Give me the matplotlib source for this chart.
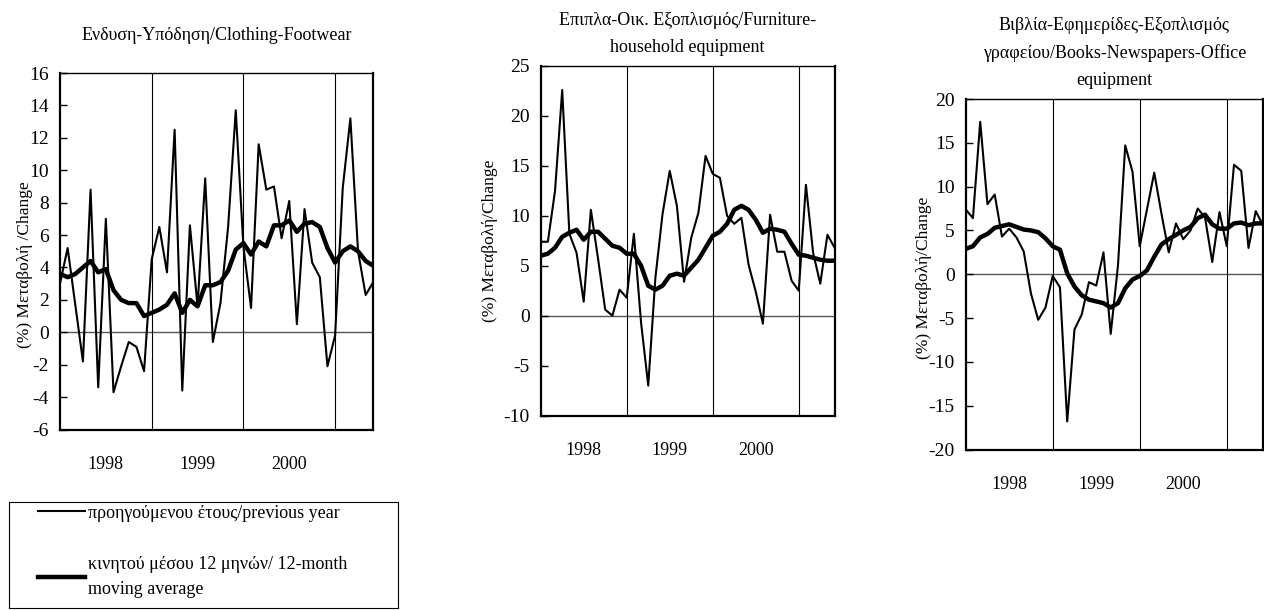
import numpy as np
import matplotlib
matplotlib.use('Agg')
import matplotlib.pyplot as plt
from matplotlib.lines import Line2D

plt.rcParams['font.family'] = ['Liberation Serif', 'DejaVu Serif']
plt.rcParams['axes.unicode_minus'] = False

# monthly observations, Jan 1998 - Jun 2001
months = np.arange(42)
year_labels = ['1998', '1999', '2000']
year_centres = [6, 18, 30]
year_breaks = [12, 24, 36]

# Clothing-Footwear
cloth_yoy = [3.0, 5.2, 1.7, -1.8, 8.8, -3.4, 7.0, -3.7, -2.1, -0.6, -0.9, -2.4,
             4.5, 6.5, 3.7, 12.5, -3.6, 6.6, 1.6, 9.5, -0.6, 1.8, 6.5, 13.7,
             5.3, 1.5, 11.6, 8.8, 9.0, 5.8, 8.1, 0.5, 7.6, 4.3, 3.4, -2.1,
             -0.2, 8.9, 13.2, 5.0, 2.3, 3.1]
cloth_ma = [3.6, 3.4, 3.6, 4.0, 4.4, 3.7, 3.9, 2.6, 2.0, 1.8, 1.8, 1.0,
            1.2, 1.4, 1.7, 2.4, 1.2, 2.0, 1.6, 2.9, 2.9, 3.1, 3.8, 5.1,
            5.5, 4.8, 5.6, 5.3, 6.6, 6.6, 6.9, 6.2, 6.7, 6.8, 6.5, 5.2,
            4.3, 5.0, 5.3, 5.0, 4.4, 4.1]

# Furniture-household equipment
furn_yoy = [7.4, 7.4, 12.5, 22.6, 8.2, 6.3, 1.4, 10.6, 5.7, 0.6, 0.0, 2.6,
            1.8, 8.2, -0.7, -7.0, 3.8, 10.2, 14.5, 11.0, 3.4, 7.8, 10.3, 16.0,
            14.2, 13.8, 10.0, 9.2, 9.8, 5.1, 2.4, -0.8, 10.1, 6.4, 6.4, 3.5,
            2.5, 13.1, 6.3, 3.2, 8.1, 6.8]
furn_ma = [6.0, 6.2, 6.8, 7.9, 8.3, 8.6, 7.6, 8.4, 8.4, 7.7, 7.0, 6.8,
           6.2, 6.2, 5.0, 3.0, 2.6, 3.0, 4.0, 4.2, 4.0, 4.8, 5.6, 6.8,
           8.0, 8.4, 9.2, 10.6, 11.0, 10.6, 9.6, 8.3, 8.7, 8.6, 8.4, 7.2,
           6.1, 6.0, 5.8, 5.6, 5.5, 5.5]

# Books-Newspapers-Office equipment
books_yoy = [7.4, 6.4, 17.4, 8.0, 9.1, 4.3, 5.2, 4.2, 2.6, -2.2, -5.2, -3.8,
             -0.2, -1.5, -16.8, -6.3, -4.6, -0.9, -1.3, 2.5, -6.8, 1.0, 14.7, 11.7,
             3.2, 7.4, 11.6, 6.9, 2.5, 5.8, 4.0, 5.0, 7.5, 6.5, 1.4, 7.1,
             3.2, 12.5, 11.8, 3.0, 7.2, 5.6]
books_ma = [2.9, 3.2, 4.2, 4.6, 5.3, 5.5, 5.7, 5.4, 5.1, 5.0, 4.8, 4.1,
            3.2, 2.8, 0.1, -1.4, -2.4, -2.9, -3.1, -3.3, -3.8, -3.3, -1.6, -0.6,
            -0.2, 0.45, 2.0, 3.4, 4.0, 4.5, 5.0, 5.4, 6.4, 6.8, 5.7, 5.2,
            5.2, 5.8, 5.9, 5.6, 5.8, 5.8]

titles = ['Ενδυση-Υπόδηση/Clothing-Footwear',
          'Επιπλα-Οικ. Εξοπλισμός/Furniture-\nhousehold equipment',
          'Βιβλία-Εφημερίδες-Εξοπλισμός\nγραφείου/Books-Newspapers-Office\nequipment']
ylabels = ['(%) Μεταβολή /Change', '(%) Μεταβολή/Change', '(%) Μεταβολή/Change']
yyoy = [cloth_yoy, furn_yoy, books_yoy]
yma = [cloth_ma, furn_ma, books_ma]
ylims = [(-6, 16), (-10, 25), (-20, 20)]
ysteps = [2, 5, 5]

# panel frames in pixels: left, top, right, bottom
W, H = 1264, 610
frames = [(60, 73, 373.3, 429.5), (540.7, 66, 834.6, 415.5), (965.7, 99, 1263, 449.5)]
title_pads = [24, 10, 10]
ylabel_pos = [(-0.085, 0.463), (-0.145, 0.5), (-0.115, 0.489)]

fig = plt.figure(figsize=(W / 100, H / 100), dpi=100)

for i in range(3):
    l, t, r, b = frames[i]
    ax = fig.add_axes([l / W, 1 - b / H, (r - l) / W, (b - t) / H])
    ax.axhline(0, color='#555555', lw=1.0, zorder=1)
    for xb in year_breaks:
        ax.axvline(xb, color='black', lw=0.8, zorder=1)
    ax.plot(months, yyoy[i], color='black', lw=1.5, zorder=3)
    ax.plot(months, yma[i], color='black', lw=3.2, zorder=4, solid_capstyle='butt')
    ax.set_xlim(0, 41)
    ax.set_ylim(*ylims[i])
    ax.set_yticks(np.arange(ylims[i][0], ylims[i][1] + 1, ysteps[i]))
    ax.set_xticks(year_centres)
    ax.set_xticklabels(year_labels)
    ax.tick_params(axis='x', length=0, pad=19, labelsize=13)
    ax.tick_params(axis='y', direction='in', length=5, width=1, pad=8, labelsize=14)
    for side in ['left', 'bottom', 'right']:
        ax.spines[side].set_linewidth(1.6)
    ax.spines['top'].set_linewidth(1.0)
    ax.set_title(titles[i], fontsize=13, pad=title_pads[i], linespacing=1.75)
    ax.set_ylabel(ylabels[i], fontsize=12.5)
    ax.yaxis.set_label_coords(*ylabel_pos[i])

# legend box under the first panel
lax = fig.add_axes([9 / W, 2 / H, 389 / W, 106 / H])
lax.set_xticks([])
lax.set_yticks([])
for s in lax.spines.values():
    s.set_linewidth(0.8)
handles = [Line2D([], [], color='black', lw=1.5), Line2D([], [], color='black', lw=3.2)]
leg = lax.legend(handles, ['προηγούμενου έτους/previous year',
                           'κινητού μέσου 12 μηνών/ 12-month\nmoving average'],
                 loc='upper left', bbox_to_anchor=(0.075, 0.975), frameon=False,
                 fontsize=13, handlelength=2.6, handletextpad=0.15,
                 labelspacing=1.9, borderaxespad=0, borderpad=0)
for txt in leg.get_texts():
    txt.set_linespacing(1.6)

fig.savefig('out.png', dpi=100)
